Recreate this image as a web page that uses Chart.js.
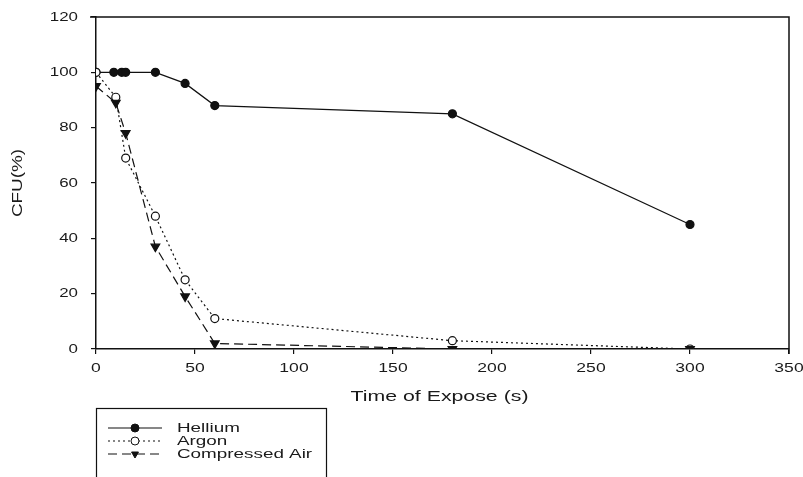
<!DOCTYPE html>
<html>
<head>
<meta charset="utf-8">
<script src="https://cdn.jsdelivr.net/npm/chart.js@4"></script>
<style>
  html, body { margin: 0; padding: 0; background: #fff; }
  #wrap { width: 803px; height: 477px; position: relative; }
</style>
</head>
<body>
<div id="wrap"><canvas id="cfuChart"></canvas></div>
<script>
// data
const heliumX = [0, 9, 13, 15, 30, 45, 60, 180, 300];
const heliumY = [100, 100, 100, 100, 100, 96, 88, 85, 45];
const argonX = [0, 10, 15, 30, 45, 60, 180, 300];
const argonY = [100, 91, 69, 48, 25, 11, 3, 0];
const airX = [0, 10, 15, 30, 45, 60, 180, 300];
const airY = [95, 89, 78, 37, 19, 2, 0, 0];
const seriesNames = ['Hellium', 'Argon', 'Compressed Air'];
const xTitle = 'Time of Expose (s)';
const yTitle = 'CFU(%)';

const FONT = "'Liberation Sans', Arial, sans-serif";
const ink = '#111';
const textInk = '#1a1a1a';
const STRETCH = 1.35;   // the source image is widened horizontally

function pts(xs, ys) {
  return xs.map((x, i) => ({ x: x, y: ys[i] }));
}

// text drawn wider than the font, like the scanned figure
function wideText(ctx, str, x, y, size, align, sx) {
  ctx.save();
  ctx.translate(x, y);
  ctx.scale(sx, 1);
  ctx.font = size + 'px ' + FONT;
  ctx.fillStyle = textInk;
  ctx.textAlign = align;
  ctx.textBaseline = 'middle';
  ctx.fillText(str, 0, 0);
  ctx.restore();
}

const framePlugin = {
  id: 'frame',
  afterDraw(chart) {
    const ctx = chart.ctx;
    const a = chart.chartArea;
    const xs = chart.scales.x, ys = chart.scales.y;
    ctx.save();
    ctx.strokeStyle = ink;
    ctx.lineWidth = 1.5;
    ctx.beginPath();
    ctx.moveTo(a.left - 6, a.top);
    ctx.lineTo(a.right, a.top);
    ctx.lineTo(a.right, a.bottom + 5);
    ctx.stroke();

    // tick labels
    xs.ticks.forEach(t => {
      wideText(ctx, String(t.value), xs.getPixelForValue(t.value), a.bottom + 19, 13, 'center', STRETCH);
    });
    ys.ticks.forEach(t => {
      wideText(ctx, String(t.value), a.left - 18, ys.getPixelForValue(t.value), 13, 'right', 1.3);
    });

    // axis titles
    wideText(ctx, xTitle, (a.left + a.right) / 2 - 3, a.bottom + 48, 15, 'center', 1.42);
    ctx.save();
    ctx.translate(18, (a.top + a.bottom) / 2);
    ctx.rotate(-Math.PI / 2);
    ctx.scale(1.35, 1);
    ctx.font = '14px ' + FONT;
    ctx.fillStyle = textInk;
    ctx.textAlign = 'center';
    ctx.textBaseline = 'middle';
    ctx.fillText(yTitle, 0, 0);
    ctx.restore();

    // legend
    const bx = 96, by = 408, bw = 230, bh = 80;
    ctx.strokeStyle = ink;
    ctx.lineWidth = 1.2;
    ctx.strokeRect(bx + 0.5, by + 0.5, bw, bh);
    const rows = [428, 441, 454];
    chart.data.datasets.forEach((ds, i) => {
      const y = rows[i];
      ctx.strokeStyle = ink;
      ctx.lineWidth = 1.2;
      ctx.setLineDash(ds.borderDash || []);
      ctx.beginPath();
      ctx.moveTo(108, y);
      ctx.lineTo(162, y);
      ctx.stroke();
      ctx.setLineDash([]);
      ctx.fillStyle = ds.pointBackgroundColor;
      ctx.strokeStyle = ink;
      ctx.lineWidth = 1;
      Chart.helpers.drawPoint(ctx, {
        pointStyle: ds.pointStyle,
        rotation: ds.pointRotation || 0,
        radius: 4,
        borderWidth: 1
      }, 135, y);
      wideText(ctx, seriesNames[i], 177, y, 13, 'left', 1.45);
    });
    ctx.restore();
  }
};

new Chart(document.getElementById('cfuChart'), {
  type: 'scatter',
  data: {
    datasets: [
      {
        label: seriesNames[0],
        data: pts(heliumX, heliumY),
        order: 3,
        showLine: true,
        borderColor: ink,
        borderWidth: 1.2,
        pointStyle: 'circle',
        pointRadius: 4,
        pointBackgroundColor: ink,
        pointBorderColor: ink,
      },
      {
        label: seriesNames[1],
        data: pts(argonX, argonY),
        order: 2,
        showLine: true,
        borderColor: ink,
        borderWidth: 1.2,
        borderDash: [2, 3],
        pointStyle: 'circle',
        pointRadius: 4,
        pointBackgroundColor: '#fff',
        pointBorderColor: ink,
      },
      {
        label: seriesNames[2],
        data: pts(airX, airY),
        order: 1,
        showLine: true,
        borderColor: ink,
        borderWidth: 1.2,
        borderDash: [9, 5],
        pointStyle: 'triangle',
        pointRotation: 180,
        pointRadius: 5,
        pointBackgroundColor: ink,
        pointBorderColor: ink,
      }
    ]
  },
  options: {
    responsive: true,
    maintainAspectRatio: false,
    animation: false,
    layout: { padding: { left: 0, right: 14, top: 17, bottom: 68 } },
    plugins: {
      legend: { display: false },
      tooltip: { enabled: false }
    },
    scales: {
      x: {
        type: 'linear',
        min: 0, max: 350,
        ticks: { stepSize: 50, display: false },
        grid: { drawOnChartArea: false, drawTicks: true, tickLength: 5, color: ink, lineWidth: 1.2 },
        border: { color: ink, width: 1.5 },
        afterFit: s => { s.height = 60; }
      },
      y: {
        min: 0, max: 120,
        ticks: { stepSize: 20, display: false },
        grid: { drawOnChartArea: false, drawTicks: true, tickLength: 5, color: ink, lineWidth: 1.2 },
        border: { color: ink, width: 1.5 },
        afterFit: s => { s.width = 96; }
      }
    }
  },
  plugins: [framePlugin]
});
</script>
</body>
</html>
